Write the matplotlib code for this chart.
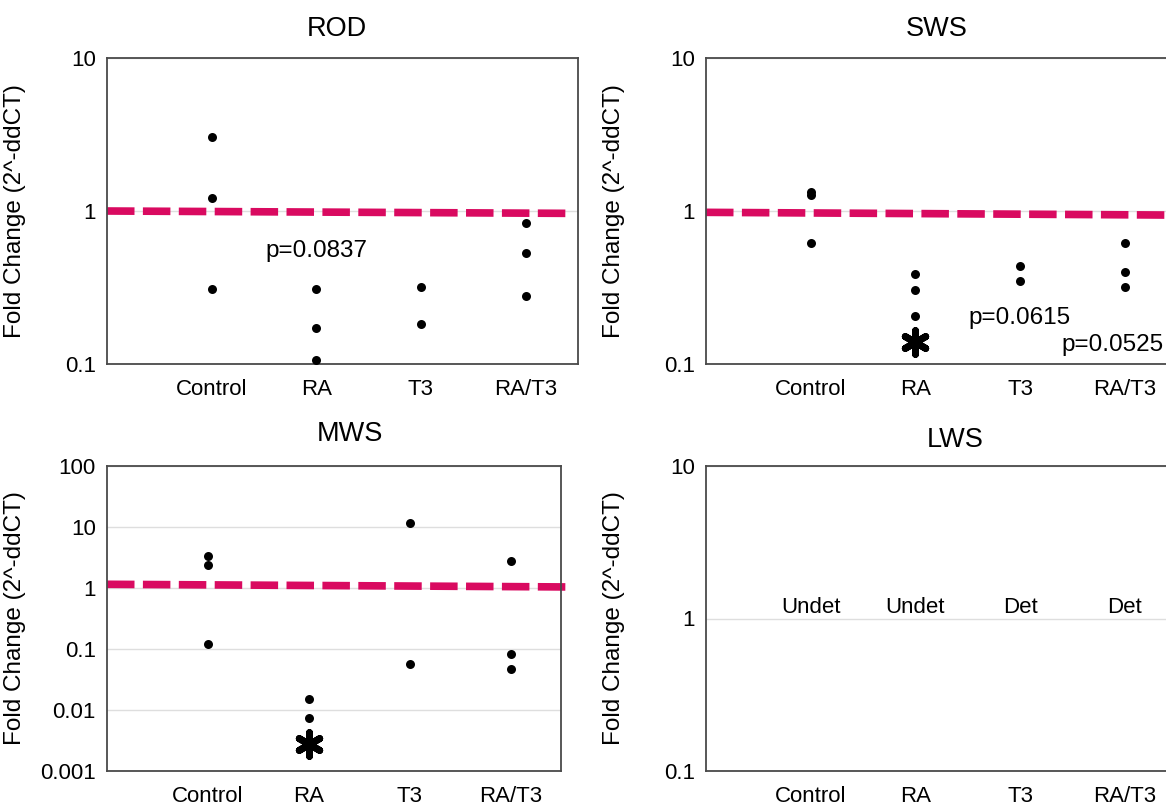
from typing import Dict, List, Tuple
import matplotlib
matplotlib.use("Agg")
import matplotlib.pyplot as plt
from matplotlib.ticker import FixedLocator, FixedFormatter, NullLocator

plt.rcParams['font.family'] = ['Liberation Sans', 'DejaVu Sans']

# Groups on the x axis
groups: List[str] = ["Control", "RA", "T3", "RA/T3"]

# Fold change values (one list per group)
rod_control = [3.03, 1.21, 0.31]
rod_ra = [0.31, 0.172, 0.107]
rod_t3 = [0.32, 0.182]
rod_rat3 = [0.83, 0.53, 0.277]

sws_control = [1.33, 1.28, 0.62]
sws_ra = [0.389, 0.305, 0.207]
sws_t3 = [0.44, 0.348]
sws_rat3 = [0.62, 0.40, 0.318]

mws_control = [3.39, 2.42, 0.122]
mws_ra = [0.0150, 0.0075]
mws_t3 = [11.6, 0.0575]
mws_rat3 = [2.73, 0.0818, 0.0477]

lws_status = ["Undet", "Undet", "Det", "Det"]
lws_status_y = 1.18

# y ticks per panel
rod_ticks = [0.1, 1, 10]
sws_ticks = [0.1, 1, 10]
mws_ticks = [0.001, 0.01, 0.1, 1, 10, 100]
lws_ticks = [0.1, 1, 10]
tick_text = {0.001: "0.001", 0.01: "0.01", 0.1: "0.1", 1: "1", 10: "10", 100: "100"}

# significance markers (group index, y) and p-value notes (x, y, text)
sws_star = (2, 0.139)
mws_star = (2, 0.00274)
rod_notes = [(2.0, 0.55, "p=0.0837")]
sws_notes = [(3.0, 0.20, "p=0.0615"), (3.88, 0.133, "p=0.0525")]

RED = "#d90a60"
FRAME = "#4a4a4a"


def setup_axes(ax, title: str, ticks: List[float], width_px: float, title_x: float, title_pad: float) -> None:
    ax.set_yscale("log")
    ax.set_ylim(ticks[0], ticks[-1])
    ax.set_xlim(0, 4.5)
    ax.yaxis.set_major_locator(FixedLocator(ticks))
    ax.yaxis.set_major_formatter(FixedFormatter([tick_text[t] for t in ticks]))
    ax.yaxis.set_minor_locator(NullLocator())
    ax.set_xticks(range(1, 5))
    ax.set_xticklabels(groups)
    ax.tick_params(axis="both", length=0, labelsize=16, colors="black")
    ax.tick_params(axis="x", pad=11)
    ax.tick_params(axis="y", pad=8)
    ax.grid(axis="y", color="#dedede", lw=1, zorder=0)
    ax.set_axisbelow(True)
    for sp in ax.spines.values():
        sp.set_color(FRAME)
        sp.set_linewidth(1.3)
    ax.set_title(title, fontsize=19.5, x=title_x, pad=title_pad)
    ax.set_ylabel("Fold Change (2^-ddCT)", fontsize=17.5)
    ax.yaxis.set_label_coords(-81 / width_px, 0.5)


def plot_points(ax, series: List[List[float]]) -> None:
    for i, vals in enumerate(series):
        ax.scatter([i + 1] * len(vals), vals, s=42, color="black", zorder=3, linewidths=0)


def red_line(ax, y0: float, y1: float, x1: float) -> None:
    ax.plot([0, x1], [y0, y1], color=RED, lw=5.5, dashes=(3.6, 1.1), zorder=2,
            clip_on=False, solid_capstyle="butt")


def star(ax, pos: Tuple[int, float]) -> None:
    # bold asterisk marking significance
    ax.scatter([pos[0]], [pos[1]], marker=(6, 2, 0), s=290, color="black",
               linewidths=5, zorder=4)


fig = plt.figure(figsize=(11.66, 8.07), dpi=100)
W, H = 1166, 807

# axes placement in pixels: left, top, width, height
ax_rod = fig.add_axes([107 / W, 1 - 364 / H, 471 / W, 306 / H])
ax_sws = fig.add_axes([706 / W, 1 - 364 / H, 471 / W, 306 / H])
ax_mws = fig.add_axes([107 / W, 1 - 771 / H, 454 / W, 305 / H])
ax_lws = fig.add_axes([706 / W, 1 - 771 / H, 471 / W, 305 / H])

# ROD
setup_axes(ax_rod, "ROD", rod_ticks, 471, 0.488, 16)
plot_points(ax_rod, [rod_control, rod_ra, rod_t3, rod_rat3])
red_line(ax_rod, 1.0, 0.965, 4.42)
for x, y, t in rod_notes:
    ax_rod.text(x, y, t, fontsize=17.5, ha="center", va="center")

# SWS
setup_axes(ax_sws, "SWS", sws_ticks, 471, 0.49, 16)
plot_points(ax_sws, [sws_control, sws_ra, sws_t3, sws_rat3])
red_line(ax_sws, 0.98, 0.94, 4.5)
star(ax_sws, sws_star)
for x, y, t in sws_notes:
    ax_sws.text(x, y, t, fontsize=17.5, ha="center", va="center", clip_on=False)

# MWS
setup_axes(ax_mws, "MWS", mws_ticks, 454, 0.535, 18)
plot_points(ax_mws, [mws_control, mws_ra, mws_t3, mws_rat3])
red_line(ax_mws, 1.15, 1.04, 4.58)
star(ax_mws, mws_star)

# LWS
setup_axes(ax_lws, "LWS", lws_ticks, 471, 0.529, 14)
for i, t in enumerate(lws_status):
    ax_lws.text(i + 1, lws_status_y, t, fontsize=16, ha="center", va="center")

fig.savefig("out.png", dpi=100)
